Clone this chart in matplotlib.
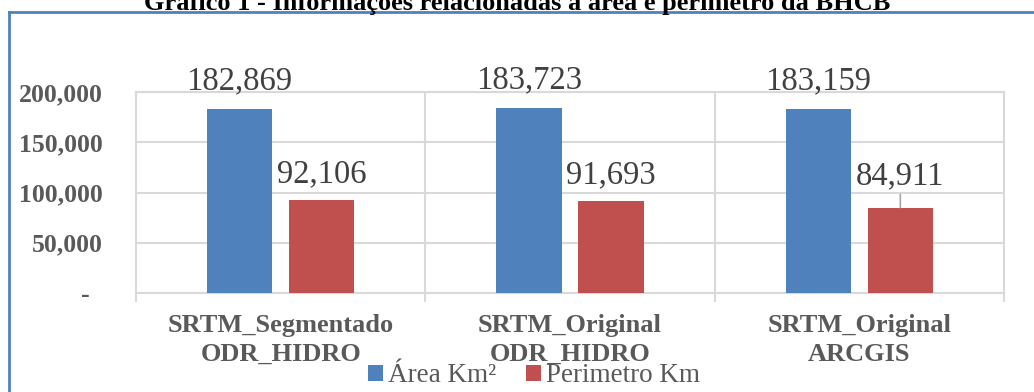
import matplotlib.pyplot as plt
import numpy as np
from matplotlib.lines import Line2D

plt.rcParams['font.family'] = ['Liberation Serif', 'DejaVu Serif']

# dados da bacia
categorias = ["SRTM_Segmentado\nODR_HIDRO", "SRTM_Original\nODR_HIDRO", "SRTM_Original\nARCGIS"]
area_km2 = [182869, 183723, 183159]
perimetro_km = [92106, 91693, 84911]
yticks = [0, 50000, 100000, 150000, 200000]
ytick_labels = ["-  ", "50,000", "100,000", "150,000", "200,000"]

azul = '#4F81BD'
vermelho = '#C0504D'
cinza_txt = '#595959'
cinza_grade = '#D9D9D9'

fig = plt.figure(figsize=(10.34, 3.92), dpi=100)
ax = fig.add_axes([136 / 1034, 99 / 392, 868 / 1034, 201 / 392])

x = np.arange(len(categorias))
w = 0.2247
off = 0.1417
b1 = ax.bar(x - off, area_km2, w, color=azul, label='Área Km²', zorder=3)
b2 = ax.bar(x + off, perimetro_km, w, color=vermelho, label='Perimetro Km', zorder=3)

# rótulos de valor (o último vermelho foi afastado e ganhou linha guia)
def rotulo(xp, v, dy, guia=False):
    ax.annotate(f"{v:,}", (xp, v), xytext=(0, dy), textcoords='offset points',
                ha='center', va='baseline', fontsize=23.5, color='#404040', zorder=4)
    if guia:
        ax.annotate('', (xp, v), xytext=(0, dy - 7), textcoords='offset points',
                    arrowprops=dict(arrowstyle='-', color='#A6A6A6', lw=1.2,
                                    shrinkA=0, shrinkB=0))

for i, v in enumerate(area_km2):
    rotulo(x[i] - off, v, 14.5)
for i, v in enumerate(perimetro_km):
    if i == 2:
        rotulo(x[i] + off, v, 16.5, guia=True)
    else:
        rotulo(x[i] + off, v, 13)

ax.set_xlim(-0.5, 2.5)
ax.set_ylim(0, 200000)
ax.set_yticks(yticks)
ax.set_yticklabels(ytick_labels, fontsize=18.5, fontweight='bold', color=cinza_txt)
ax.tick_params(axis='y', length=0, pad=24)
ax.yaxis.grid(True, color=cinza_grade, lw=1.5, zorder=0)

ax.set_xticks([-0.5, 0.5, 1.5, 2.5])
ax.set_xticklabels([])
ax.tick_params(axis='x', which='major', length=6.5, width=1.5, color=cinza_grade)
ax.set_xticks(x, minor=True)
ax.set_xticklabels(categorias, minor=True, fontsize=19, fontweight='bold', color=cinza_txt)
ax.tick_params(axis='x', which='minor', length=0, pad=15)
for t in ax.xaxis.get_ticklabels(minor=True):
    t.set_linespacing(1.35)
for xs in [0.5, 1.5]:
    ax.axvline(xs, color=cinza_grade, lw=1.5, zorder=0)
for s in ax.spines.values():
    s.set_color(cinza_grade)
    s.set_linewidth(1.5)

leg = fig.legend(handles=[b1, b2], loc='center', bbox_to_anchor=(534 / 1034, 16 / 392),
                 ncol=2, frameon=False, fontsize=19.5, handlelength=0.55, handleheight=0.55,
                 handletextpad=0.2, columnspacing=1.1, borderpad=0)
for t in leg.get_texts():
    t.set_color(cinza_txt)

# título e moldura da figura
fig.text(517 / 1034, 382 / 392, "Gráfico 1 - Informações relacionadas à área e perímetro da BHCB",
         ha='center', va='baseline', fontsize=19, fontweight='bold', color='black')
fig.add_artist(Line2D([9 / 1034, 9 / 1034], [0, 380 / 392], color=azul, lw=2))
fig.add_artist(Line2D([9 / 1034, 1.0], [380 / 392, 380 / 392], color=azul, lw=2))

fig.savefig('out.png', dpi=100)
